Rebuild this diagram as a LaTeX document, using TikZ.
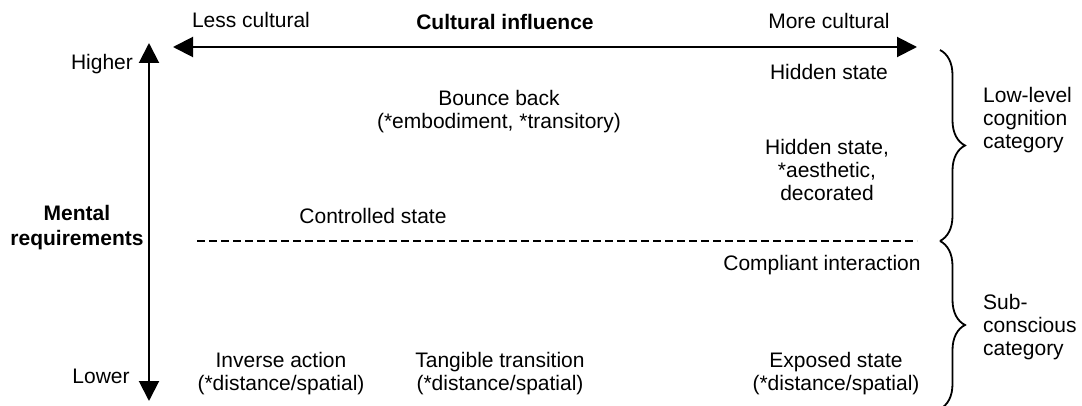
\documentclass[tikz,border=0pt]{standalone}
\usepackage{fontspec}
\setmainfont{Liberation Sans}
\usetikzlibrary{arrows.meta,decorations.pathreplacing}
\begin{document}
\begin{tikzpicture}[x=1pt,y=-1pt,
  lbl/.style={inner sep=0pt,font=\fontsize{21}{23}\selectfont,align=center},
  bold/.style={lbl,font=\fontsize{21}{25}\selectfont\bfseries},
  axis/.style={line width=2pt,{Triangle[length=20pt,width=20pt]}-{Triangle[length=20pt,width=20pt]}},
  divider/.style={line width=1.3pt,dash pattern=on 8pt off 4pt},
  bracket/.style={line width=1.8pt,decorate,decoration={brace,amplitude=25pt}}]
\useasboundingbox (0,0) rectangle (1082,406);

% axes
\coordinate (hl) at (173,47);
\coordinate (hr) at (917,47);
\coordinate (vt) at (149,43);
\coordinate (vb) at (149,401);
\draw[axis] (hl) -- (hr);
\draw[axis] (vt) -- (vb);

% axis labels
\node[lbl] (lesscult) at (251,20) {Less cultural};
\node[bold] (culinf) at (505,22) {Cultural influence};
\node[lbl] (morecult) at (829,21) {More cultural};
\node[lbl] (higher) at (102,64) {Higher};
\node[lbl] (lower) at (101,376) {Lower};
\node[bold] (mental) at (77,228) {Mental\\requirements};

% divider between categories
\coordinate (dl) at (197,241);
\coordinate (dr) at (917,241);
\draw[divider] (dl) -- (dr);

% items
\node[lbl] (hidden1) at (829,72) {Hidden state};
\node[lbl] (bounce) at (499,112) {Bounce back\\(*embodiment, *transitory)};
\node[lbl] (hidden2) at (827,170) {Hidden state,\\*aesthetic,\\decorated};
\node[lbl] (controlled) at (373,216) {Controlled state};
\node[lbl] (compliant) at (822,265) {Compliant interaction};
\node[lbl] (inverse) at (281,374) {Inverse action\\(*distance/spatial)};
\node[lbl] (tangible) at (500,374) {Tangible transition\\(*distance/spatial)};
\node[lbl] (exposed) at (836,374) {Exposed state\\(*distance/spatial)};

% category braces
\coordinate (b1t) at (940,50);
\coordinate (b1b) at (940,241);
\coordinate (b2t) at (940,241);
\coordinate (b2b) at (940,409);
\draw[bracket] (b1t) -- (b1b);
\draw[bracket] (b2t) -- (b2b);
\node[lbl,anchor=west,align=left] (lowlevel) at (983,120) {Low-level\\cognition\\category};
\node[lbl,anchor=west,align=left] (subcons) at (983,327) {Sub-\\conscious\\category};
\end{tikzpicture}
\end{document}
